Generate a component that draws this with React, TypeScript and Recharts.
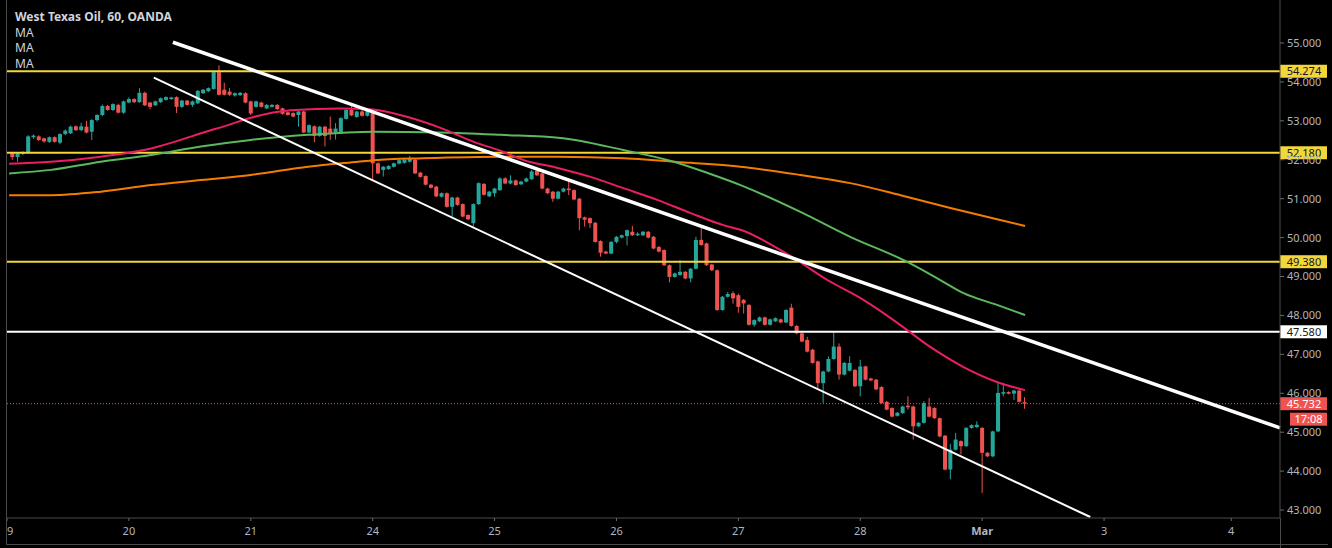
import React from "react";
import { ComposedChart, Bar, Line, XAxis, YAxis, ReferenceLine } from "recharts";

const W = 1332;
const H = 548;
const FONT = "'Noto Sans', 'Open Sans', sans-serif";
const UP = "#26a69a";
const DOWN = "#ef5350";
const YELLOW = "#f2d63a";
const AXIS_TEXT = "#b2b5be";
const FRAME = "#4a4a4a";

// time axis: position of each session start (in hourly candles) and its label
const dayTicks = [0, 23, 46, 69, 92, 115, 138, 161, 184, 207, 231];
const dayLabels = ["19", "20", "21", "24", "25", "26", "27", "28", "Mar", "3", "4"];
const priceTicks = [43, 44, 45, 46, 47, 48, 49, 50, 51, 52, 53, 54, 55];

// hourly candles [open, high, low, close], one array per session
const day19 = [
  [52.17, 52.2, 52.0, 52.07], [52.07, 52.19, 51.95, 52.16], [52.16, 52.22, 52.12, 52.18],
  [52.18, 52.63, 52.15, 52.6], [52.58, 52.65, 52.54, 52.62], [52.6, 52.63, 52.48, 52.51],
  [52.55, 52.57, 52.44, 52.47], [52.46, 52.6, 52.43, 52.58], [52.58, 52.6, 52.44, 52.46],
  [52.44, 52.68, 52.4, 52.66], [52.66, 52.78, 52.63, 52.75], [52.68, 52.88, 52.66, 52.85],
  [52.86, 52.88, 52.74, 52.76], [52.76, 52.95, 52.74, 52.86], [52.85, 53.0, 52.68, 52.7],
  [52.72, 53.04, 52.51, 53.02], [53.02, 53.17, 52.98, 53.15], [53.15, 53.42, 53.12, 53.38],
  [53.38, 53.41, 53.26, 53.28], [53.28, 53.45, 53.25, 53.43], [53.41, 53.44, 53.19, 53.21],
  [53.21, 53.52, 53.18, 53.5],
];
const day20 = [
  [53.47, 53.6, 53.45, 53.56], [53.56, 53.58, 53.46, 53.48], [53.48, 53.84, 53.46, 53.72],
  [53.72, 53.75, 53.38, 53.4], [53.47, 53.49, 53.3, 53.36], [53.4, 53.52, 53.38, 53.5],
  [53.48, 53.6, 53.46, 53.58], [53.54, 53.63, 53.52, 53.61], [53.56, 53.62, 53.54, 53.6],
  [53.61, 53.63, 53.2, 53.36], [53.36, 53.54, 53.33, 53.52], [53.52, 53.54, 53.39, 53.41],
  [53.41, 53.52, 53.36, 53.5], [53.45, 53.79, 53.43, 53.77], [53.71, 53.82, 53.69, 53.8],
  [53.76, 53.86, 53.74, 53.84], [53.82, 54.28, 53.8, 54.25], [54.25, 54.43, 53.65, 53.67],
  [53.8, 53.98, 53.65, 53.67], [53.75, 53.84, 53.64, 53.67], [53.65, 53.73, 53.62, 53.71],
  [53.66, 53.74, 53.64, 53.72], [53.71, 53.73, 53.45, 53.47],
];
const day21 = [
  [53.5, 53.52, 53.15, 53.19], [53.36, 53.52, 53.34, 53.5], [53.47, 53.49, 53.34, 53.36],
  [53.32, 53.43, 53.3, 53.41], [53.36, 53.43, 53.34, 53.41], [53.41, 53.43, 53.28, 53.3],
  [53.32, 53.34, 53.16, 53.18], [53.22, 53.24, 53.13, 53.15], [53.2, 53.22, 53.09, 53.11],
  [53.15, 53.26, 52.85, 53.24], [53.24, 53.26, 52.68, 52.7], [52.7, 52.91, 52.68, 52.89],
  [52.86, 52.88, 52.45, 52.61], [52.61, 52.87, 52.59, 52.85], [52.85, 52.87, 52.34, 52.61],
  [52.8, 53.11, 52.51, 52.68], [52.7, 52.94, 52.52, 52.8], [52.68, 53.09, 52.66, 53.07],
  [53.05, 53.3, 53.03, 53.28], [53.28, 53.38, 53.12, 53.14], [53.1, 53.26, 53.08, 53.24],
  [53.24, 53.28, 53.11, 53.13], [53.13, 53.28, 53.11, 53.26],
];
const day24 = [
  [53.24, 53.26, 51.48, 51.91], [51.91, 51.93, 51.63, 51.65], [51.74, 51.84, 51.57, 51.82],
  [51.76, 51.86, 51.74, 51.84], [51.82, 51.93, 51.8, 51.91], [51.9, 52.03, 51.88, 51.99],
  [51.92, 52.02, 51.9, 52.0], [51.95, 52.1, 51.93, 52.04], [52.0, 52.02, 51.63, 51.65],
  [51.67, 51.69, 51.54, 51.56], [51.58, 51.6, 51.34, 51.36], [51.36, 51.38, 51.26, 51.28],
  [51.31, 51.33, 51.04, 51.06], [51.05, 51.16, 51.03, 51.14], [51.14, 51.16, 50.77, 50.79],
  [50.79, 51.05, 50.54, 51.03], [51.03, 51.05, 50.82, 50.84], [50.86, 50.88, 50.52, 50.54],
  [50.58, 50.6, 50.45, 50.47], [50.37, 50.88, 50.28, 50.86], [50.86, 51.42, 50.84, 51.4],
  [51.38, 51.4, 51.08, 51.1], [51.06, 51.2, 51.04, 51.18],
];
const day25 = [
  [51.14, 51.28, 51.05, 51.26], [51.22, 51.55, 51.2, 51.52], [51.52, 51.55, 51.37, 51.39],
  [51.39, 51.6, 51.37, 51.47], [51.47, 51.49, 51.33, 51.35], [51.37, 51.46, 51.35, 51.44],
  [51.44, 51.54, 51.42, 51.52], [51.5, 51.74, 51.48, 51.7], [51.72, 51.78, 51.58, 51.6],
  [51.65, 51.67, 51.24, 51.26], [51.26, 51.28, 51.12, 51.14], [51.18, 51.2, 50.92, 51.0],
  [51.0, 51.2, 50.98, 51.18], [51.18, 51.28, 51.16, 51.26], [51.26, 51.52, 51.09, 51.22],
  [51.22, 51.24, 50.96, 50.98], [51.0, 51.02, 50.19, 50.5], [50.52, 50.54, 50.28, 50.46],
  [50.5, 50.52, 50.25, 50.37], [50.38, 50.4, 49.87, 49.89], [49.91, 49.93, 49.51, 49.61],
  [49.64, 49.66, 49.57, 49.59], [49.59, 49.91, 49.57, 49.89],
];
const day26 = [
  [49.89, 50.04, 49.85, 50.02], [50.0, 50.08, 49.98, 50.06], [50.04, 50.21, 49.8, 50.19],
  [50.15, 50.3, 50.04, 50.06], [50.06, 50.14, 50.04, 50.1], [50.06, 50.17, 50.04, 50.15],
  [50.15, 50.17, 49.98, 50.0], [50.02, 50.04, 49.7, 49.72], [49.76, 49.78, 49.62, 49.64],
  [49.68, 49.7, 49.27, 49.29], [49.29, 49.31, 48.85, 48.99], [48.99, 49.1, 48.97, 49.08],
  [49.04, 49.42, 49.02, 49.12], [49.12, 49.14, 48.93, 48.95], [48.95, 49.22, 48.85, 49.2],
  [49.2, 50.02, 49.18, 49.94], [49.94, 50.3, 49.79, 49.81], [49.85, 49.87, 49.27, 49.29],
  [49.31, 49.33, 49.14, 49.16], [49.16, 49.18, 48.12, 48.14], [48.14, 48.5, 48.12, 48.48],
  [48.48, 48.6, 48.46, 48.55], [48.57, 48.62, 48.3, 48.44],
];
const day27 = [
  [48.52, 48.56, 48.07, 48.22], [48.4, 48.42, 48.05, 48.31], [48.27, 48.29, 47.74, 47.76],
  [47.76, 47.9, 47.71, 47.88], [47.85, 47.97, 47.83, 47.95], [47.95, 47.97, 47.74, 47.76],
  [47.76, 47.92, 47.74, 47.9], [47.85, 47.95, 47.83, 47.93], [47.9, 47.92, 47.8, 47.82],
  [47.82, 48.16, 47.8, 48.14], [48.2, 48.3, 47.71, 47.73], [47.73, 47.75, 47.52, 47.54],
  [47.54, 47.56, 47.31, 47.33], [47.37, 47.45, 47.05, 47.07], [47.12, 47.14, 46.76, 46.78],
  [46.82, 46.84, 46.1, 46.26], [46.26, 46.58, 45.75, 46.56], [46.56, 46.95, 46.54, 46.88],
  [46.88, 47.58, 46.86, 47.2], [47.2, 47.28, 46.35, 46.48], [46.48, 46.8, 46.46, 46.78],
  [46.58, 46.95, 46.56, 46.78], [46.6, 46.62, 46.16, 46.18],
];
const day28 = [
  [46.18, 46.86, 45.92, 46.69], [46.69, 46.71, 46.33, 46.35], [46.38, 46.4, 46.31, 46.33],
  [46.35, 46.37, 46.08, 46.1], [46.16, 46.18, 45.73, 45.75], [45.78, 45.8, 45.56, 45.58],
  [45.62, 45.64, 45.38, 45.4], [45.42, 45.52, 45.4, 45.5], [45.49, 45.68, 45.47, 45.66],
  [45.68, 45.92, 45.58, 45.64], [45.66, 45.68, 44.81, 45.15], [45.15, 45.26, 45.13, 45.24],
  [45.24, 45.8, 45.22, 45.75], [45.66, 45.88, 45.38, 45.4], [45.62, 45.64, 45.34, 45.36],
  [45.36, 45.38, 44.87, 44.89], [44.91, 44.93, 44.02, 44.04], [44.04, 44.7, 43.79, 44.55],
  [44.55, 44.98, 44.53, 44.81], [44.77, 44.79, 44.43, 44.64], [44.64, 45.13, 44.62, 45.11],
  [45.11, 45.2, 45.09, 45.18], [45.13, 45.28, 45.11, 45.19],
];
const mar02 = [
  [45.11, 45.13, 43.44, 44.47], [44.47, 44.49, 44.36, 44.38], [44.38, 45.04, 44.36, 45.02],
  [45.02, 46.27, 45.0, 46.01], [45.99, 46.27, 45.92, 46.03], [46.03, 46.05, 45.97, 45.99],
  [45.99, 46.09, 45.83, 46.07], [46.07, 46.12, 45.76, 45.78], [45.77, 45.9, 45.6, 45.73],
];
const sessions = [day19, day20, day21, day24, day25, day26, day27, day28, mar02];

// moving averages: [candle position, price]
const maFast = [
  [0.4, 51.9], [8.3, 51.95], [17.7, 52.08], [27.2, 52.29], [32.8, 52.51], [36.6, 52.68],
  [41.7, 52.89], [46, 53.08], [53.5, 53.27], [63, 53.32], [68.6, 53.3], [75.6, 53.1],
  [81.8, 52.82], [88.1, 52.46], [93.1, 52.23], [97.5, 51.99], [103.9, 51.79], [110.1, 51.56],
  [116.3, 51.27], [122.7, 50.97], [129, 50.63], [135.2, 50.32], [138.4, 50.2], [147.8, 49.53],
  [154.8, 48.91], [161.6, 48.4], [168, 47.81], [174.2, 47.19], [180.4, 46.68], [186.8, 46.29],
  [192.1, 46.08],
];
const maMid = [
  [0.4, 51.65], [8.3, 51.74], [17.7, 51.95], [27.2, 52.12], [36.6, 52.34], [46, 52.51],
  [56.8, 52.64], [69.2, 52.72], [81.8, 52.7], [93.1, 52.64], [104.5, 52.56], [116.3, 52.25],
  [125.8, 51.95], [132.2, 51.66], [138.4, 51.35], [149.7, 50.66], [159.1, 50.02], [169.5, 49.4],
  [176.1, 48.91], [180.4, 48.58], [186.8, 48.27], [192.1, 48.01],
];
const maSlow = [
  [0.4, 51.09], [8.3, 51.09], [17.7, 51.18], [27.2, 51.35], [36.6, 51.48], [46, 51.61],
  [56.8, 51.82], [66.2, 51.95], [69.2, 51.99], [78.6, 52.04], [93.1, 52.08], [103.9, 52.08],
  [116.3, 52.04], [129, 51.92], [138.4, 51.82], [149.7, 51.61], [159.1, 51.4], [168.6, 51.09],
  [178, 50.76], [187.4, 50.45], [192.1, 50.3],
];

// drawn trend lines: [candle position, price] end points
const upperTrend = [[31.3, 55.02], [240.2, 45.11]];
const lowerTrend = [[27.7, 54.11], [204.4, 42.82]];

// horizontal levels
const yellowLevels = [54.274, 52.18, 49.38];
const whiteLevel = 47.58;
const lastPrice = 45.732;
const countdown = "17:08";
const legendTitle = "West Texas Oil, 60, OANDA";
const legendItems = ["MA", "MA", "MA"];

const candleData = sessions.flat().map(([o, h, l, c], i) => ({ t: i + 1, o, h, l, c }));
const toPts = (arr: number[][]) => arr.map(([t, v]) => ({ t, v }));
const toSeg = (arr: number[][]) => arr.map(([x, y]) => ({ x, y }));

const Candle = (props: any) => {
  const { x, y, width, height, payload } = props;
  if (!payload || x == null || y == null) return null;
  const { o, h, l, c } = payload;
  const top = Math.min(y, y + height);
  const hh = Math.abs(height);
  const range = h - l;
  const py = (v: number) => (range === 0 ? top : top + ((h - v) / range) * hh);
  const cx = x + width / 2;
  const color = c >= o ? UP : DOWN;
  const b1 = py(Math.max(o, c));
  const b2 = py(Math.min(o, c));
  const bw = 4;
  return (
    <g>
      <line x1={cx} x2={cx} y1={top} y2={top + hh} stroke={color} strokeWidth={1} />
      <rect x={cx - bw / 2} y={b1} width={bw} height={Math.max(1, b2 - b1)} fill={color} />
    </g>
  );
};

const PriceTag = (props: any) => {
  const { viewBox, text, bg, fg, sub } = props;
  if (!viewBox) return null;
  const x0 = viewBox.x + viewBox.width;
  const yc = viewBox.y + (viewBox.height || 0) / 2;
  return (
    <g>
      <rect x={x0} y={yc - 6.5} width={47} height={13} fill={bg} />
      <text x={x0 + 24} y={yc + 4} textAnchor="middle" fontSize={11} fill={fg} fontFamily={FONT}>
        {text}
      </text>
      {sub ? (
        <g>
          <rect x={x0 + 10} y={yc + 9} width={37} height={13} fill={bg} />
          <text x={x0 + 28.5} y={yc + 19.5} textAnchor="middle" fontSize={11} fill={fg} fontFamily={FONT}>
            {sub}
          </text>
        </g>
      ) : null}
    </g>
  );
};

const DayTick = (props: any) => {
  const { x, y, payload } = props;
  const idx = dayTicks.indexOf(payload.value);
  const label = idx >= 0 ? dayLabels[idx] : "";
  return (
    <g>
      <defs>
        <clipPath id={`dclip${idx}`}>
          <rect x={7} y={0} width={W} height={H} />
        </clipPath>
      </defs>
      <text
        x={x}
        y={y}
        dy={10}
        textAnchor="middle"
        fill={AXIS_TEXT}
        fontSize={11}
        fontWeight={label === "Mar" ? 700 : 400}
        fontFamily={FONT}
        clipPath={`url(#dclip${idx})`}
      >
        {label}
      </text>
    </g>
  );
};

export default function App() {
  return (
    <div style={{ position: "absolute", left: 0, top: 0, width: W, height: H, background: "#000", overflow: "hidden" }}>
      <ComposedChart width={W} height={H} data={candleData} margin={{ top: 0, right: 0, bottom: 0, left: 7 }}>
        <XAxis
          type="number"
          dataKey="t"
          domain={[0, 240.2]}
          allowDataOverflow
          ticks={dayTicks}
          interval={0}
          height={30}
          tickSize={3}
          tickMargin={4}
          tick={<DayTick />}
          tickLine={{ stroke: "#6a6a6a" }}
          axisLine={{ stroke: FRAME }}
        />
        <YAxis
          orientation="right"
          domain={[42.795, 56.105]}
          allowDataOverflow
          ticks={priceTicks}
          interval={0}
          width={52}
          tickSize={4}
          tickMargin={3}
          tickFormatter={(v: number) => v.toFixed(3)}
          tick={{ fill: AXIS_TEXT, fontSize: 11, fontFamily: FONT }}
          tickLine={{ stroke: "#6a6a6a" }}
          axisLine={{ stroke: FRAME }}
        />
        {yellowLevels.map((v) => (
          <ReferenceLine
            key={v}
            y={v}
            stroke={YELLOW}
            strokeWidth={2}
            label={<PriceTag text={v.toFixed(3)} bg={YELLOW} fg="#131722" />}
          />
        ))}
        <ReferenceLine
          y={whiteLevel}
          stroke="#ffffff"
          strokeWidth={2}
          label={<PriceTag text={whiteLevel.toFixed(3)} bg="#ffffff" fg="#131722" />}
        />
        <Line data={toPts(maSlow)} dataKey="v" type="monotone" stroke="#f57c00" strokeWidth={2} dot={false} isAnimationActive={false} />
        <Line data={toPts(maMid)} dataKey="v" type="monotone" stroke="#5cb85c" strokeWidth={2} dot={false} isAnimationActive={false} />
        <Line data={toPts(maFast)} dataKey="v" type="monotone" stroke="#e91e63" strokeWidth={2} dot={false} isAnimationActive={false} />
        <ReferenceLine
          y={lastPrice}
          stroke={DOWN}
          strokeWidth={1}
          strokeDasharray="1 2"
          label={<PriceTag text={lastPrice.toFixed(3)} bg={DOWN} fg="#ffffff" sub={countdown} />}
        />
        <Bar dataKey={(d: any) => [d.l, d.h]} barSize={4} shape={<Candle />} isAnimationActive={false} />
        <ReferenceLine segment={toSeg(upperTrend)} stroke="#ffffff" strokeWidth={3.5} ifOverflow="visible" />
        <ReferenceLine segment={toSeg(lowerTrend)} stroke="#ffffff" strokeWidth={2} ifOverflow="visible" />
      </ComposedChart>
      <div style={{ position: "absolute", left: 6, top: 0, width: 1, height: 544, background: FRAME }} />
      <div style={{ position: "absolute", left: 1280, top: 518, width: 1, height: 30, background: FRAME }} />
      <div style={{ position: "absolute", left: 6, top: 544, width: 1322, height: 1, background: FRAME }} />
      <div style={{ position: "absolute", left: 15, top: 9, fontFamily: FONT, color: "#d1d4dc", fontSize: 12, lineHeight: "15.5px" }}>
        <div style={{ fontWeight: 700 }}>{legendTitle}</div>
        {legendItems.map((m, i) => (
          <div key={i}>{m}</div>
        ))}
      </div>
    </div>
  );
}
